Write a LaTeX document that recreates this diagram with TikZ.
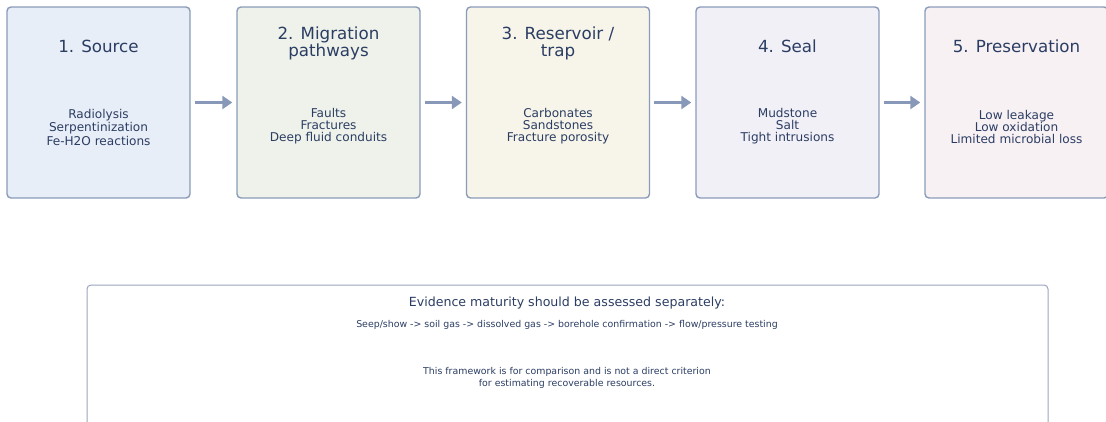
\documentclass[tikz,border=0pt]{standalone}
\usepackage{fontspec}
\setmainfont{DejaVu Sans}
\usetikzlibrary{arrows.meta}
\definecolor{stageline}{HTML}{8A9BBA}
\definecolor{flowarrow}{HTML}{8798B8}
\definecolor{inktext}{HTML}{2B3D63}
\definecolor{fillsrc}{HTML}{E8EEF7}
\definecolor{fillmig}{HTML}{EEF2EA}
\definecolor{fillres}{HTML}{F7F5EA}
\definecolor{fillseal}{HTML}{F2F0F7}
\definecolor{fillpres}{HTML}{F7F1F4}
\definecolor{noteline}{HTML}{9AA5BD}
\tikzset{
  stagebox/.style={draw=stageline, line width=1.4pt, rounded corners=4pt,
    minimum width=183pt, minimum height=191pt, inner sep=0pt},
  stagetitle/.style={text=inktext, align=center, inner sep=0pt,
    font=\fontsize{16.7}{17}\selectfont},
  stageitems/.style={text=inktext, align=center, inner sep=0pt,
    font=\fontsize{12.1}{12}\selectfont},
  flow/.style={draw=flowarrow, line width=3.6pt,
    -{Triangle[length=10pt,width=13pt]}, shorten <=4pt, shorten >=4pt},
  notetext/.style={text=inktext, align=center, inner sep=0pt}
}
\begin{document}
\begin{tikzpicture}[x=1pt, y=-1pt]
\useasboundingbox (0,0) rectangle (1106,421);
\clip (0,0) rectangle (1106,421);

% Stage boxes
\node[stagebox, fill=fillsrc] (src) at (98.5,102.5) {};
\node[stagebox, fill=fillmig] (mig) at (328.5,102.5) {};
\node[stagebox, fill=fillres] (res) at (558,102.5) {};
\node[stagebox, fill=fillseal] (seal) at (787.5,102.5) {};
\node[stagebox, fill=fillpres] (pres) at (1016.5,102.5) {};

% Titles
\node[stagetitle] (srct) at (98.5,46) {1. Source};
\node[stagetitle] (migt) at (328.5,43.5) {2. Migration\\pathways};
\node[stagetitle] (rest) at (558,43.5) {3. Reservoir /\\trap};
\node[stagetitle] (sealt) at (787.5,46) {4. Seal};
\node[stagetitle] (prest) at (1016.5,46) {5. Preservation};

% Items
\node[stageitems, font=\fontsize{12.1}{13.5}\selectfont] (srci) at (98.5,127) {Radiolysis\\Serpentinization\\Fe-H2O reactions};
\node[stageitems] (migi) at (328.5,126) {Faults\\Fractures\\Deep fluid conduits};
\node[stageitems] (resi) at (558,126) {Carbonates\\Sandstones\\Fracture porosity};
\node[stageitems] (seali) at (787.5,126) {Mudstone\\Salt\\Tight intrusions};
\node[stageitems] (presi) at (1016.5,127) {Low leakage\\Low oxidation\\Limited microbial loss};

% Arrows
\draw[flow] (src) -- (mig);
\draw[flow] (mig) -- (res);
\draw[flow] (res) -- (seal);
\draw[flow] (seal) -- (pres);

% Evidence note
\draw[noteline, line width=1pt, rounded corners=4pt] (87,440) -- (87,285) -- (1048,285) -- (1048,440);
\node[notetext, font=\fontsize{12.6}{15}\selectfont] (notehead) at (567,303) {Evidence maturity should be assessed separately:};
\node[notetext, font=\fontsize{9.4}{11}\selectfont] (chain) at (567,325) {Seep/show -> soil gas -> dissolved gas -> borehole confirmation -> flow/pressure testing};
\node[notetext, font=\fontsize{9.4}{12}\selectfont] (caveat) at (567,378) {This framework is for comparison and is not a direct criterion\\for estimating recoverable resources.};
\end{tikzpicture}
\end{document}
